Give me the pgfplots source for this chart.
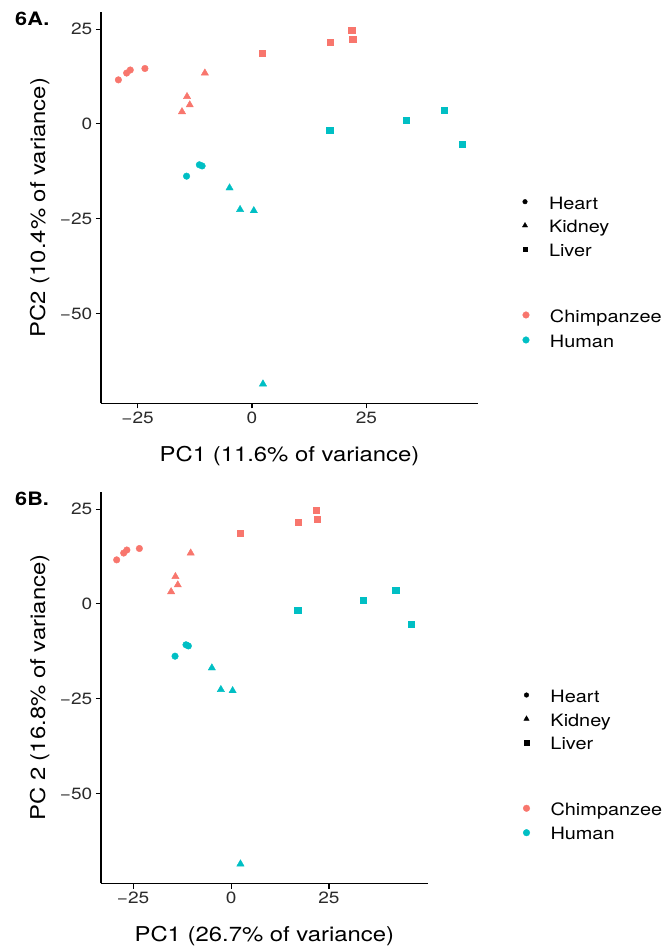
\documentclass[border=0pt]{standalone}
\usepackage{fontspec}
\setmainfont{TeX Gyre Heros}[FakeStretch=1.17]
\usepackage{pgfplots}
\pgfplotsset{compat=1.18}
\definecolor{chimp}{HTML}{F8766D}
\definecolor{human}{HTML}{00BFC4}
\definecolor{ticktext}{HTML}{2B2B2B}

\pgfplotsset{
 pcastyle/.style={
   scale only axis, anchor=south west, height=391.3bp,
   ymin=-73.7, ymax=29.5,
   axis x line*=bottom, axis y line*=left,
   axis line style={-, line width=1.1bp, black},
   tick align=outside, major tick length=5.2bp,
   tick style={line width=1.1bp, black},
   xtick={-25,0,25}, xticklabels={−25,0,25},
   ytick={-50,-25,0,25}, yticklabels={−50,−25,0,25},
   ticklabel style={font=\fontsize{16.3bp}{20bp}\selectfont, text=ticktext},
   label style={font=\fontsize{20.4bp}{25bp}\selectfont},
   clip=false,
   legend cell align=left,
   legend image code/.code={\path[draw=none,fill=none] (-3.5bp,-3.5bp) rectangle (3.5bp,3.5bp); \draw[##1] plot coordinates {(0bp,0bp)};},
   legend style={draw=none, fill=none, inner sep=0pt, outer sep=0pt, row sep=0pt, column sep=20.5bp, anchor=north west,
     font=\fontsize{17bp}{20bp}\selectfont,
     nodes={inner sep=0pt, outer sep=0pt, text height=19.2bp, text depth=4.6bp}},
 },
 chimpH/.style={only marks, mark=*, mark size=3.3bp, color=chimp, forget plot},
 chimpK/.style={only marks, mark=triangle*, mark size=4.2bp, color=chimp, forget plot},
 chimpL/.style={only marks, mark=square*, mark size=3.15bp, color=chimp, forget plot},
 humanH/.style={only marks, mark=*, mark size=3.3bp, color=human, forget plot},
 humanK/.style={only marks, mark=triangle*, mark size=4.2bp, color=human, forget plot},
 humanL/.style={only marks, mark=square*, mark size=3.15bp, color=human, forget plot},
}

\newcommand{\pcadata}{%
  \addplot[chimpH] coordinates {(-29.2,11.6) (-27.4,13.4) (-26.6,14.2) (-23.4,14.6)};
  \addplot[chimpK] coordinates {(-10.3,13.4) (-14.2,7.2) (-13.6,5.0) (-15.3,3.2)};
  \addplot[chimpL] coordinates {(2.3,18.6) (17.1,21.5) (21.8,24.7) (22.0,22.3)};
  \addplot[humanH] coordinates {(-14.3,-13.8) (-11.5,-10.8) (-10.9,-11.1)};
  \addplot[humanK] coordinates {(-4.9,-16.9) (-2.6,-22.6) (0.4,-22.9) (2.4,-68.6)};
  \addplot[humanL] coordinates {(17.0,-1.6) (33.7,1.05) (42.0,3.6) (46.0,-5.3)};
  \addlegendimage{only marks, mark=*, mark size=2.3bp, black}
  \addlegendentry{Heart}
  \addlegendimage{only marks, mark=triangle*, mark size=3.0bp, black}
  \addlegendentry{Kidney}
  \addlegendimage{only marks, mark=square*, mark size=2.3bp, black}
  \addlegendentry{Liver}
}
\newcommand{\colourlegend}{%
  \addlegendimage{only marks, mark=*, mark size=3.3bp, chimp}
  \addlegendentry{Chimpanzee}
  \addlegendimage{only marks, mark=*, mark size=3.3bp, human}
  \addlegendentry{Human}
}

\begin{document}
\begin{tikzpicture}
\path[use as bounding box] (0,0) rectangle (664bp,952bp);

% Panel A
\begin{axis}[pcastyle, at={(101bp,548.7bp)}, width=377bp,
  xmin=-33.0, xmax=49.4,
  xlabel={PC1 (11.6\% of variance)},
  ylabel={PC2 (10.4\% of variance)},
  xlabel style={at={(axis description cs:0.5,-0.1492)}, anchor=base},
  ylabel style={at={(axis description cs:-0.1485,0.5)}, anchor=base},
  legend style={at={(axis description cs:1.1154,0.5456)}}]
\pcadata
\end{axis}
\begin{axis}[pcastyle, at={(101bp,548.7bp)}, width=377bp, hide axis,
  xmin=0, xmax=1, ymin=0, ymax=1,
  legend style={at={(axis description cs:1.1180,0.2561)}, row sep=1.2bp}]
\colourlegend
\end{axis}

% Panel B
\begin{axis}[pcastyle, at={(101bp,68.7bp)}, width=326.7bp,
  xmin=-33.2, xmax=50.2,
  xlabel={PC1 (26.7\% of variance)},
  ylabel={PC 2 (16.8\% of variance)},
  xlabel style={at={(axis description cs:0.5,-0.1492)}, anchor=base},
  ylabel style={at={(axis description cs:-0.1714,0.5)}, anchor=base},
  legend style={at={(axis description cs:1.2917,0.5116)}}]
\pcadata
\end{axis}
\begin{axis}[pcastyle, at={(101bp,68.7bp)}, width=326.7bp, hide axis,
  xmin=0, xmax=1, ymin=0, ymax=1,
  legend style={at={(axis description cs:1.2917,0.2221)}, row sep=0.6bp}]
\colourlegend
\end{axis}

\node[anchor=base west, font=\bfseries\fontsize{18.5bp}{20bp}\selectfont] at (11.7bp,926bp) {6A.};
\node[anchor=base west, font=\bfseries\fontsize{18.5bp}{20bp}\selectfont] at (11.7bp,446bp) {6B.};
\end{tikzpicture}
\end{document}
